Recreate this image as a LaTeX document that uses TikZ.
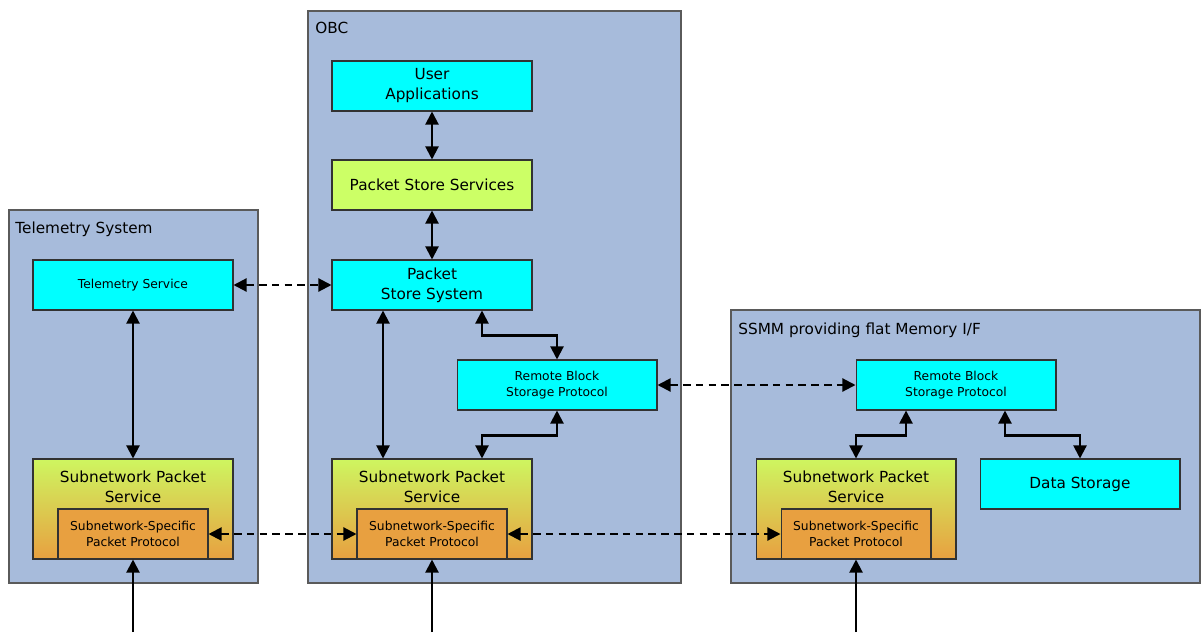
\documentclass[tikz,border=0pt]{standalone}
\usepackage{fontspec}
\setmainfont{DejaVu Sans}
\usepackage{tikz}
\usetikzlibrary{arrows.meta}
\definecolor{contfill}{RGB}{167,187,219}
\definecolor{contline}{RGB}{90,90,90}
\definecolor{boxline}{RGB}{50,50,50}
\definecolor{svccyan}{RGB}{0,255,255}
\definecolor{svcgreen}{RGB}{204,255,102}
\definecolor{spstop}{RGB}{206,246,96}
\definecolor{spsorange}{RGB}{232,160,64}
\newcommand{\bigtxt}{\fontsize{8.7}{11.4}\selectfont}
\newcommand{\smalltxt}{\fontsize{7}{9.1}\selectfont}

\begin{document}
\begin{tikzpicture}[x=0.02cm,y=-0.02cm]\tikzstyle{every node}+=[inner sep=0pt]
	\tikzstyle{container}=[draw=contline,fill=contfill,line width=0.6pt]
	\tikzstyle{cyanbox}=[draw=boxline,fill=svccyan,line width=0.6pt,minimum width=4cm,minimum height=1cm,align=center,font=\bigtxt]
	\tikzstyle{greenbox}=[cyanbox,fill=svcgreen]
	\tikzstyle{spsbox}=[draw=boxline,line width=0.6pt,top color=spstop,bottom color=spsorange,minimum width=4cm,minimum height=2cm]
	\tikzstyle{sspbox}=[draw=boxline,fill=spsorange,line width=0.6pt,minimum width=3cm,minimum height=1cm,align=center,font=\smalltxt]
	\tikzstyle{biarrow}=[line width=1.2pt,{Triangle[length=7.5pt,width=7.5pt]}-{Triangle[length=7.5pt,width=7.5pt]}]
	\tikzstyle{dasharrow}=[biarrow,dash pattern=on 4.3pt off 3pt]
	\tikzstyle{uparrow}=[line width=1.2pt,-{Triangle[length=7.5pt,width=7.5pt]}]
	\useasboundingbox (0,0) rectangle (1202,632);
	\draw [container] (9,210) rectangle (258,583);
	\node [anchor=base west,font=\bigtxt] (tmlabel) at (15,233) {Telemetry System};
	\draw [container] (308,11) rectangle (681,583);
	\node [anchor=base west,font=\bigtxt] (obclabel) at (315,33) {OBC};
	\draw [container] (731,310) rectangle (1200,583);
	\node [anchor=base west,font=\bigtxt] (ssmmlabel) at (738,334) {SSMM providing flat Memory I/F};
	\node [cyanbox,font=\smalltxt] (tmserv) at (133,285) {Telemetry Service};
	\node [spsbox] (tmsps) at (133,509) {};
	\node [align=center,font=\bigtxt] (tmspstxt) at (133,487) {Subnetwork Packet\\Service};
	\node [sspbox] (tmssp) at (133,534) {Subnetwork-Specific\\Packet Protocol};
	\node [cyanbox] (userapp) at (432,86) {User\\Applications};
	\node [greenbox] (pssvc) at (432,185) {Packet Store Services};
	\node [cyanbox] (pssys) at (432,285) {Packet\\Store System};
	\node [cyanbox,font=\smalltxt] (obcrbs) at (557,385) {Remote Block\\Storage Protocol};
	\node [spsbox] (obcsps) at (432,509) {};
	\node [align=center,font=\bigtxt] (obcspstxt) at (432,487) {Subnetwork Packet\\Service};
	\node [sspbox] (obcssp) at (432,534) {Subnetwork-Specific\\Packet Protocol};
	\node [cyanbox,font=\smalltxt] (ssmmrbs) at (956,385) {Remote Block\\Storage Protocol};
	\node [spsbox] (ssmmsps) at (856,509) {};
	\node [align=center,font=\bigtxt] (ssmmspstxt) at (856,487) {Subnetwork Packet\\Service};
	\node [sspbox] (ssmmssp) at (856,534) {Subnetwork-Specific\\Packet Protocol};
	\node [cyanbox] (datastore) at (1080,484) {Data Storage};
	\coordinate (tmin) at (133,632);
	\coordinate (obcin) at (432,632);
	\coordinate (ssmmin) at (856,632);
	\draw [biarrow] (userapp) -- (pssvc);
	\draw [biarrow] (pssvc) -- (pssys);
	\draw [biarrow] (tmserv) -- (tmsps);
	\draw [biarrow] ([xshift=-0.98cm]pssys.south) -- ([xshift=-0.98cm]obcsps.north);
	\draw [biarrow] ([xshift=1cm]pssys.south) -- ++(0,25) -| (obcrbs.north);
	\draw [biarrow] (obcrbs.south) -- ++(0,25) -| ([xshift=1cm]obcsps.north);
	\draw [biarrow] ([xshift=-1cm]ssmmrbs.south) -- ++(0,25) -| (ssmmsps.north);
	\draw [biarrow] ([xshift=0.98cm]ssmmrbs.south) -- ++(0,25) -| (datastore.north);
	\draw [dasharrow] (tmserv) -- (pssys);
	\draw [dasharrow] (obcrbs) -- (ssmmrbs);
	\draw [dasharrow] (tmssp) -- (obcssp);
	\draw [dasharrow] (obcssp) -- (ssmmssp);
	\draw [uparrow] (tmin) -- (tmssp);
	\draw [uparrow] (obcin) -- (obcssp);
	\draw [uparrow] (ssmmin) -- (ssmmssp);
\end{tikzpicture}
\end{document}
